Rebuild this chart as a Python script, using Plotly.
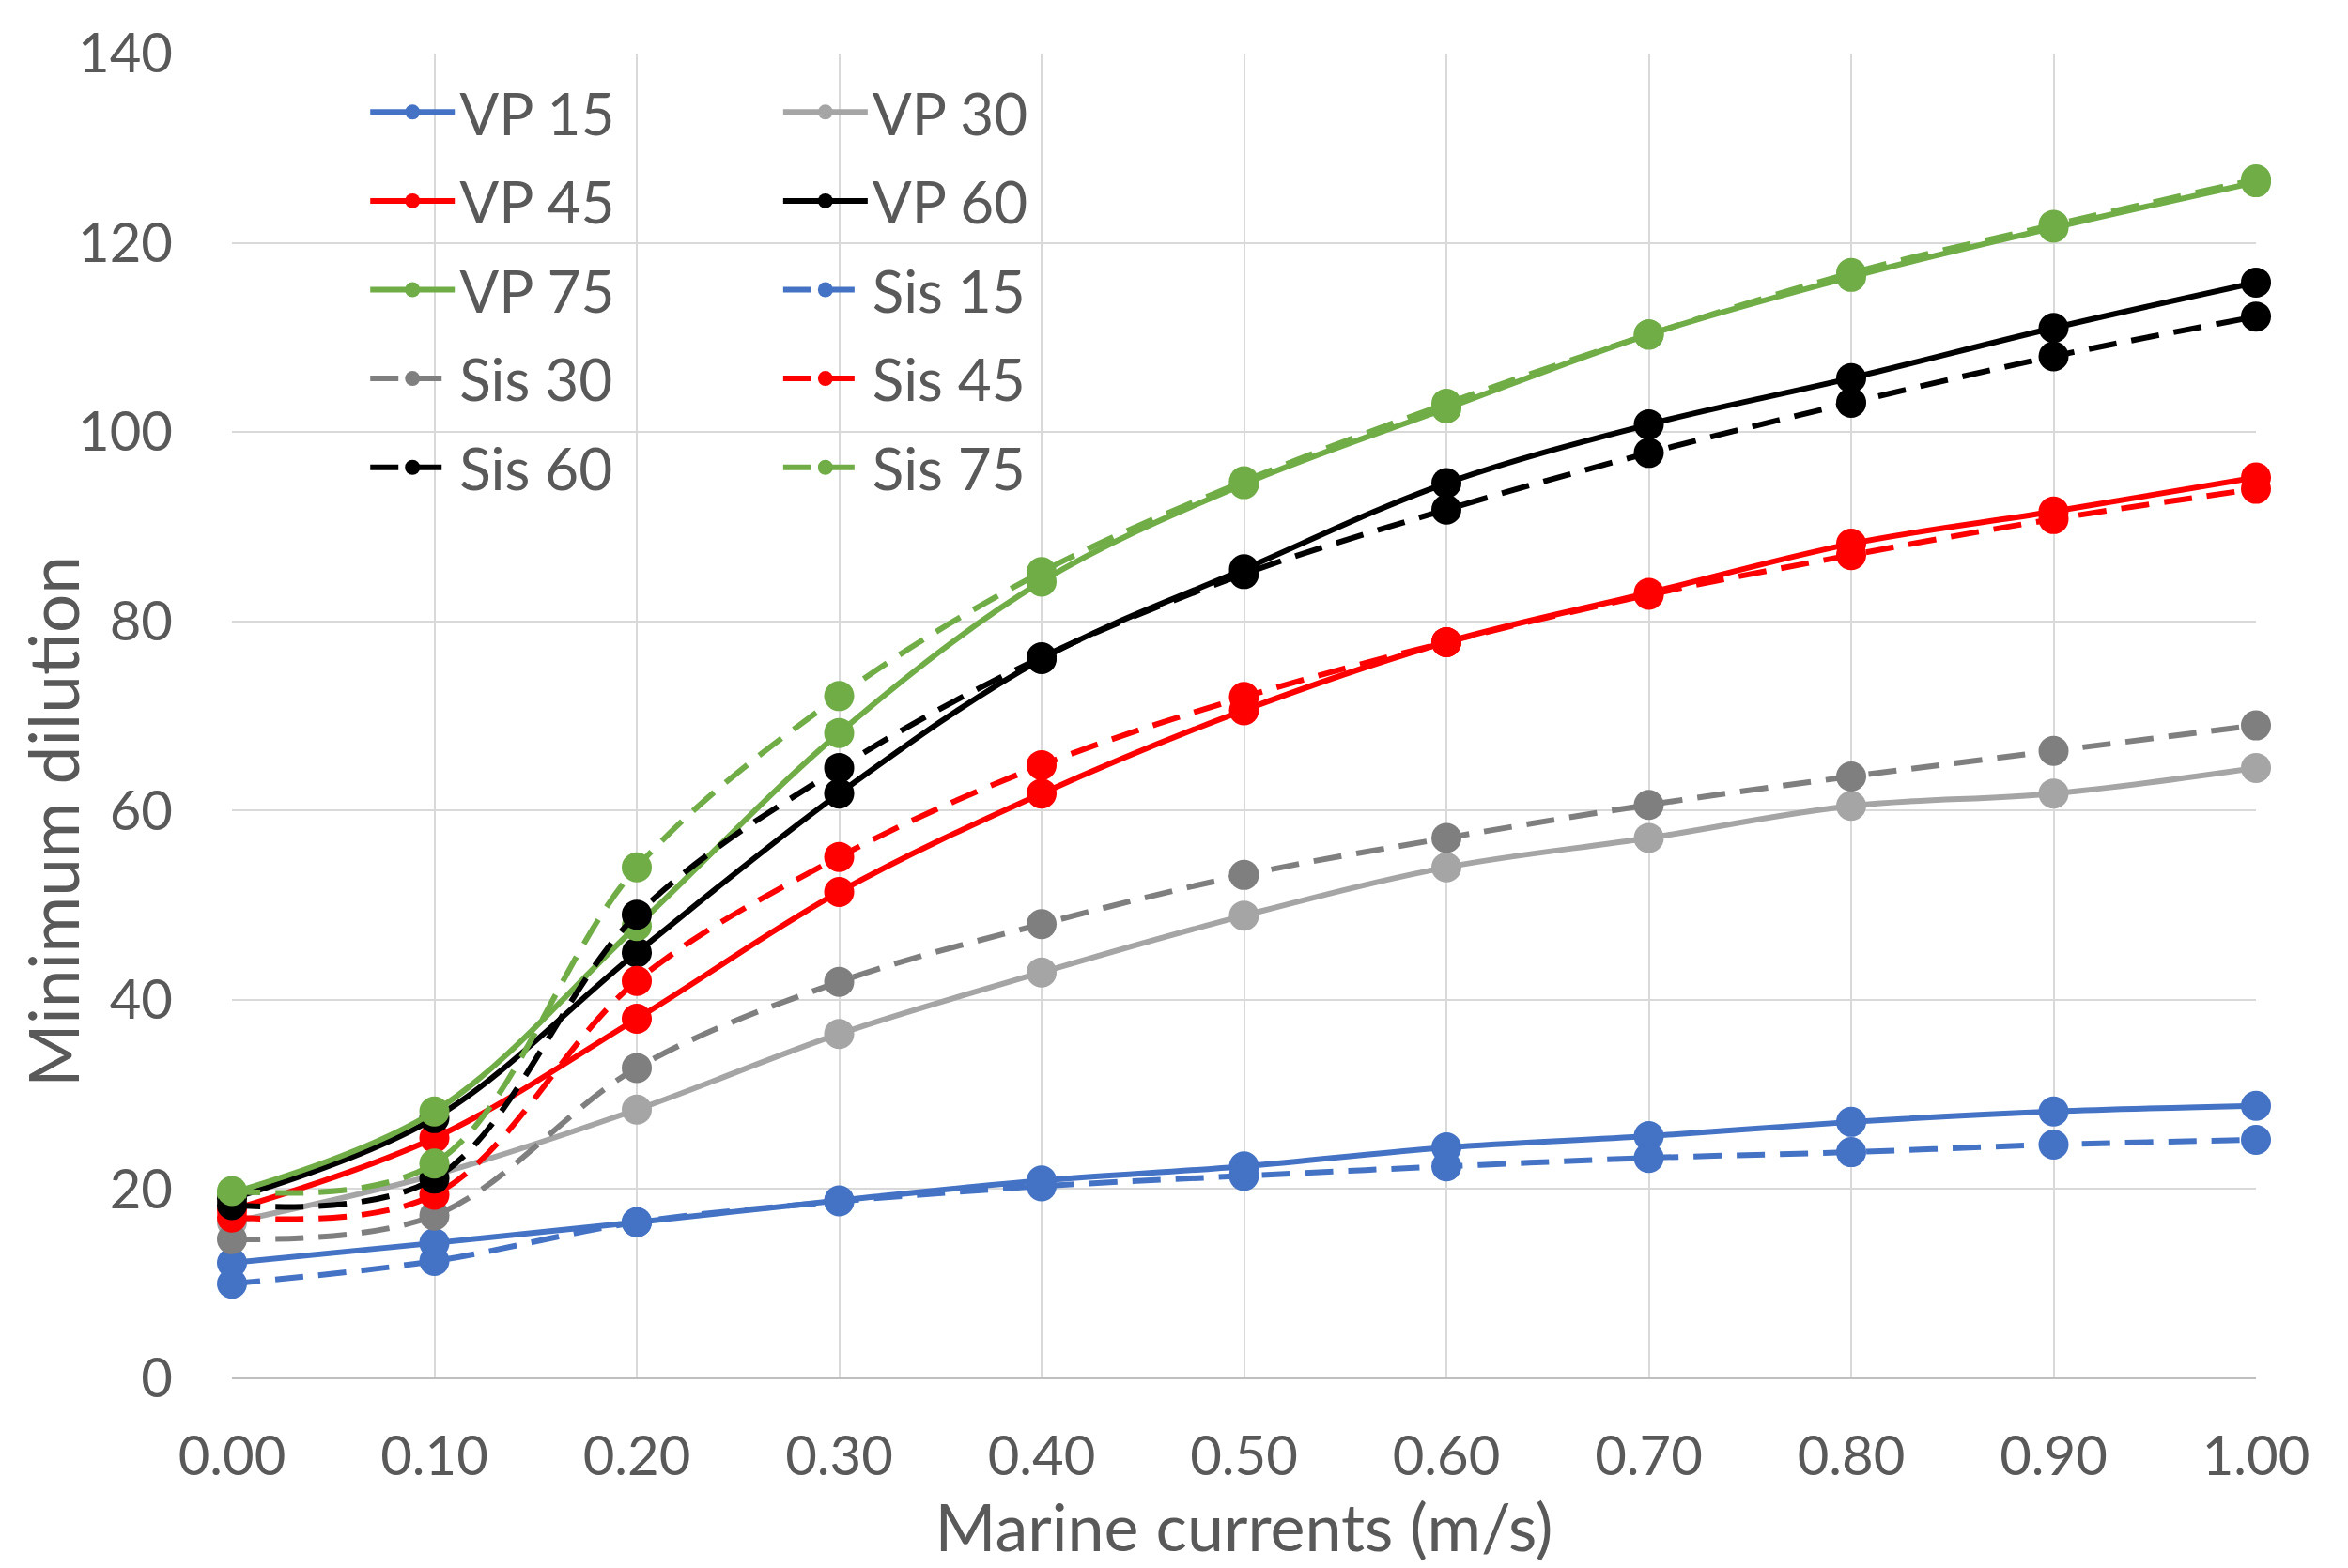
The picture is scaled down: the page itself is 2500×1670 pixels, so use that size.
import plotly.graph_objects as go

# marine current speeds (m/s)
currents = [0.0, 0.1, 0.2, 0.3, 0.4, 0.5, 0.6, 0.7, 0.8, 0.9, 1.0]

# minimum dilution
vp15 = [12.2, 14.3, 16.5, 18.8, 20.9, 22.4, 24.4, 25.6, 27.1, 28.2, 28.8]
vp30 = [16.5, 21.5, 28.4, 36.4, 42.9, 48.9, 54.0, 57.1, 60.5, 61.8, 64.5]
vp45 = [17.8, 25.4, 38.0, 51.4, 61.8, 70.6, 77.8, 83.0, 88.2, 91.6, 95.2]
vp60 = [19.0, 27.5, 45.0, 61.8, 76.0, 85.5, 94.6, 100.8, 105.7, 111.0, 115.8]
vp75 = [19.6, 28.2, 47.8, 68.2, 84.2, 94.5, 102.5, 110.3, 116.4, 121.6, 126.4]
sis15 = [10.0, 12.4, 16.5, 18.7, 20.3, 21.4, 22.4, 23.3, 23.9, 24.7, 25.2]
sis30 = [14.7, 17.2, 32.8, 41.9, 48.0, 53.2, 57.1, 60.6, 63.6, 66.3, 69.0]
sis45 = [17.0, 19.4, 42.0, 55.1, 64.8, 72.0, 77.8, 82.8, 87.0, 90.8, 94.0]
sis60 = [18.3, 21.1, 49.0, 64.5, 76.2, 85.0, 91.8, 97.8, 103.1, 108.0, 112.2]
sis75 = [19.8, 22.7, 54.0, 72.1, 85.2, 94.8, 103.0, 110.3, 116.8, 121.9, 126.7]

names = ["VP 15", "VP 30", "VP 45", "VP 60", "VP 75",
         "Sis 15", "Sis 30", "Sis 45", "Sis 60", "Sis 75"]
series = [vp15, vp30, vp45, vp60, vp75, sis15, sis30, sis45, sis60, sis75]
colors = ["#4472C4", "#A5A5A5", "#FF0000", "#000000", "#70AD47",
          "#4472C4", "#7F7F7F", "#FF0000", "#000000", "#70AD47"]

FONT = "Lato, Open Sans, sans-serif"
GREY = "#595959"

fig = go.Figure()
for i, (nm, ys, col) in enumerate(zip(names, series, colors)):
    dash = "solid" if nm.startswith("VP") else "30px,16px"
    fig.add_trace(go.Scatter(
        x=currents, y=ys, name=nm, mode="lines+markers",
        line=dict(color=col, width=6, dash=dash, shape="spline", smoothing=1),
        marker=dict(color=col, size=32),
        cliponaxis=False,
        legend="legend" if i % 2 == 0 else "legend2",
        legendgroup=nm,
    ))

leg = dict(font=dict(family=FONT, size=62, color=GREY), bgcolor="rgba(0,0,0,0)",
           yanchor="top", y=0.989, itemwidth=90, tracegroupgap=11,
           traceorder="grouped")

fig.update_layout(
    width=2500, height=1670,
    margin=dict(l=239, r=106, t=26, b=210),
    paper_bgcolor="white", plot_bgcolor="white",
    font=dict(family=FONT, color=GREY),
    legend=dict(leg, x=0.066),
    legend2=dict(leg, x=0.270),
    xaxis=dict(range=[0, 1], tickvals=currents, tickformat=".2f",
               showgrid=True, gridcolor="#D9D9D9", gridwidth=2, zeroline=False,
               tickfont=dict(size=58, color=GREY), ticklabelstandoff=44,
               ticklabeloverflow="allow",
               title=dict(text="Marine currents (m/s)", font=dict(size=70, color=GREY),
                          standoff=0)),
    yaxis=dict(range=[0, 140], dtick=20, showgrid=True, gridcolor="#D9D9D9",
               gridwidth=2, zeroline=True, zerolinecolor="#BFBFBF", zerolinewidth=2,
               tickfont=dict(size=58, color=GREY), ticklabelstandoff=62,
               ticklabeloverflow="allow"),
    annotations=[dict(text="Minimum dilution", xref="paper", yref="paper",
                      x=-0.089, y=0.4205, textangle=-90, showarrow=False,
                      xanchor="center", yanchor="middle",
                      font=dict(size=73, color=GREY, family=FONT))],
)

fig.write_html("out.html")
